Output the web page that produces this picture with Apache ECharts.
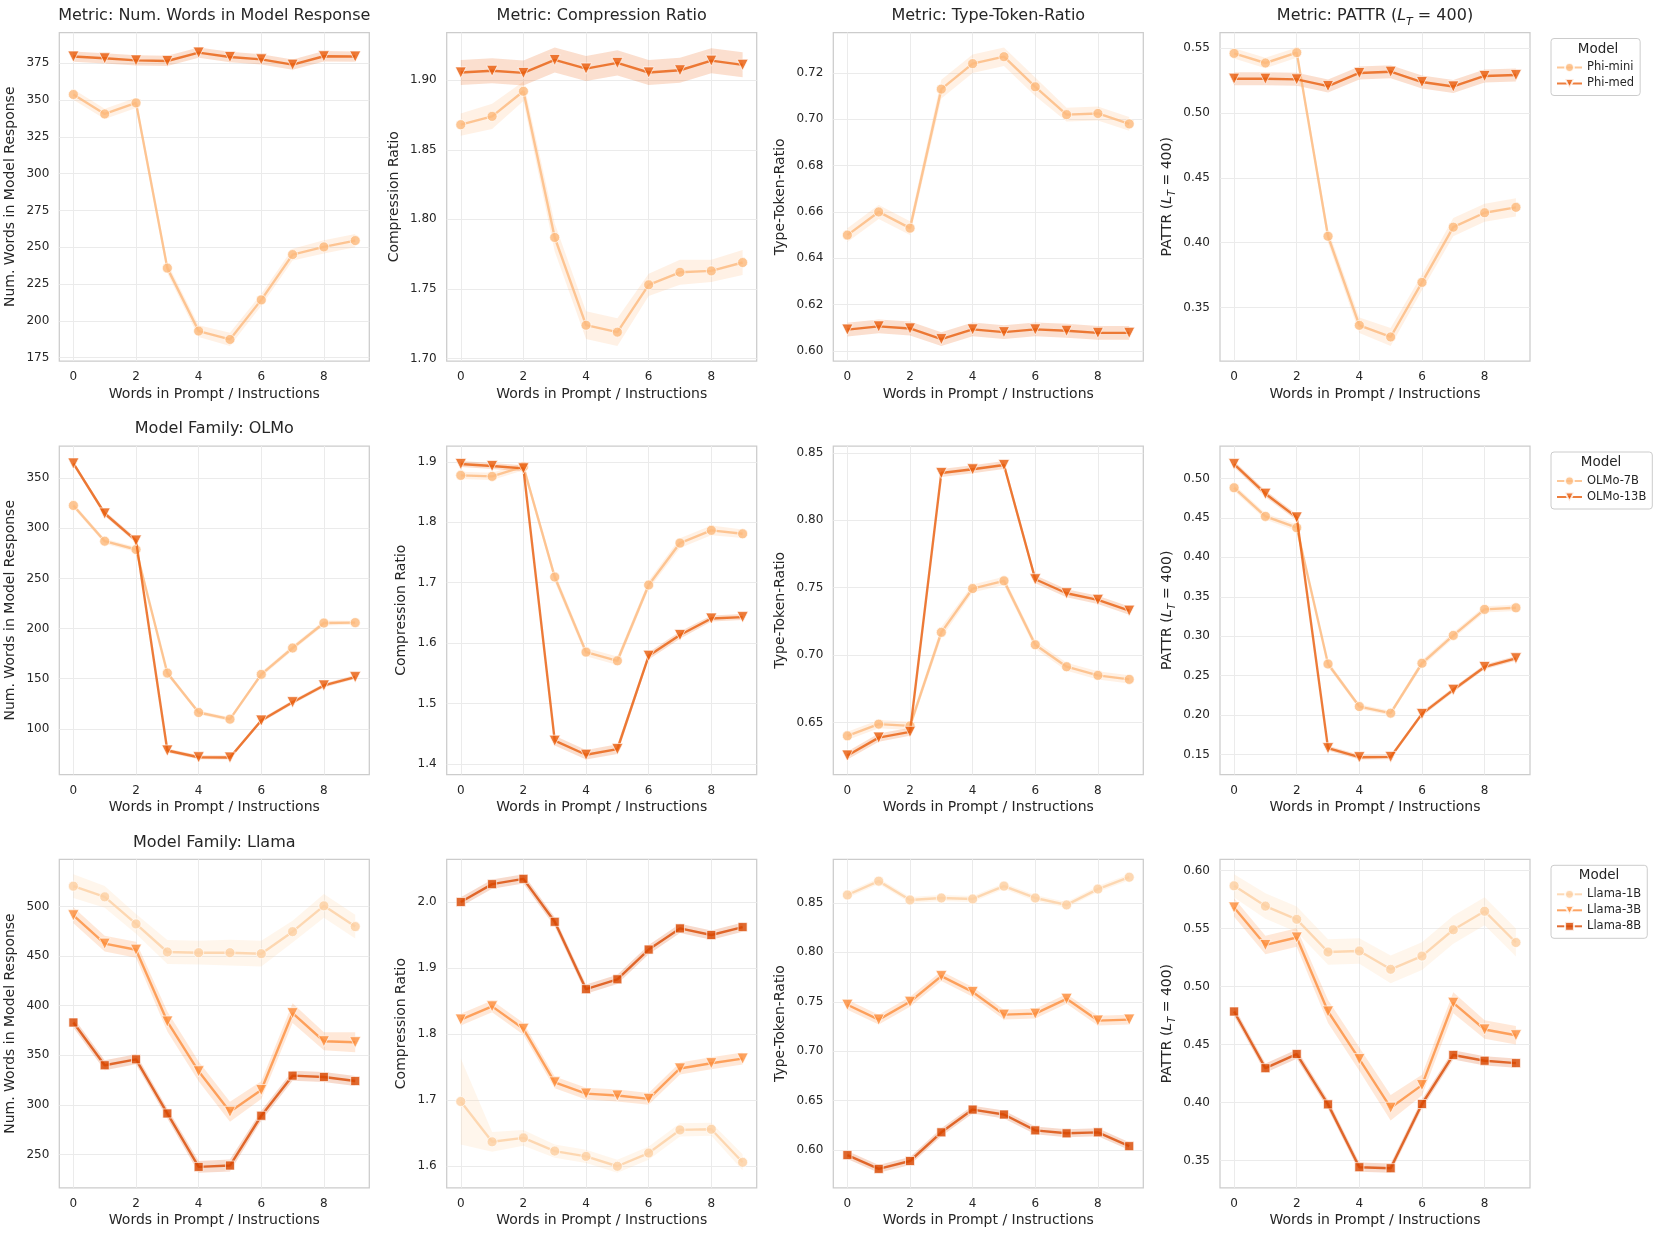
<!DOCTYPE html>
<html><head><meta charset="utf-8">
<script src="https://cdn.jsdelivr.net/npm/echarts@6/dist/echarts.min.js"></script>
<style>html,body{margin:0;padding:0;background:#fff}#c{width:1661px;height:1237px}</style>
</head><body><div id="c"></div>
<script>
// ---------------- DATA ----------------
const xValues = [0, 1, 2, 3, 4, 5, 6, 7, 8, 9];
const xTickLabels = ['0', '2', '4', '6', '8'];
const xAxisLabel = 'Words in Prompt / Instructions';
const metricTitles = ['Metric: Num. Words in Model Response', 'Metric: Compression Ratio', 'Metric: Type-Token-Ratio', 'Metric: PATTR ({i|L}{s|T} = 400)'];
const yAxisLabels = ['Num. Words in Model Response', 'Compression Ratio', 'Type-Token-Ratio', 'PATTR ({i|L}{s|T} = 400)'];
const rowTitles = ['Model Family: OLMo', 'Model Family: Llama'];
const legendTitle = 'Model';
const phiModels = ['Phi-mini', 'Phi-med'];
const olmoModels = ['OLMo-7B', 'OLMo-13B'];
const llamaModels = ['Llama-1B', 'Llama-3B', 'Llama-8B'];

// Row 1: Phi
const words_PhiMini = [353.8, 340.6, 348.1, 235.8, 193.0, 187.3, 214.2, 245.0, 250.2, 254.5];
const words_PhiMini_ci = [3.5, 3.5, 3.5, 3.5, 4, 4.5, 4, 4, 4.5, 4.5];
const words_PhiMed = [379.6, 378.4, 377.0, 376.6, 382.3, 379.3, 377.7, 374.1, 379.8, 379.6];
const words_PhiMed_ci = [3.5, 3.5, 3.5, 3.5, 3.5, 3.5, 3.5, 3.5, 3.5, 3.5];
const comp_PhiMini = [1.868, 1.874, 1.892, 1.787, 1.724, 1.719, 1.753, 1.762, 1.763, 1.769];
const comp_PhiMini_ci = [0.008, 0.009, 0.007, 0.010, 0.010, 0.010, 0.008, 0.009, 0.008, 0.009];
const comp_PhiMed = [1.9055, 1.9067, 1.9052, 1.9145, 1.9083, 1.9124, 1.9055, 1.9071, 1.914, 1.911];
const comp_PhiMed_ci = [0.009, 0.009, 0.009, 0.009, 0.009, 0.009, 0.009, 0.009, 0.009, 0.009];
const ttr_PhiMini = [0.650, 0.660, 0.653, 0.713, 0.724, 0.727, 0.714, 0.702, 0.7025, 0.698];
const ttr_PhiMini_ci = [0.003, 0.003, 0.003, 0.004, 0.004, 0.004, 0.004, 0.003, 0.003, 0.003];
const ttr_PhiMed = [0.6092, 0.6106, 0.6097, 0.6051, 0.6093, 0.6081, 0.6093, 0.6087, 0.6078, 0.6078];
const ttr_PhiMed_ci = [0.003, 0.003, 0.003, 0.003, 0.003, 0.003, 0.003, 0.003, 0.003, 0.003];
const pattr_PhiMini = [0.546, 0.5386, 0.5466, 0.405, 0.3363, 0.3273, 0.3694, 0.412, 0.4231, 0.4273];
const pattr_PhiMini_ci = [0.004, 0.004, 0.004, 0.005, 0.006, 0.007, 0.006, 0.007, 0.007, 0.007];
const pattr_PhiMed = [0.5265, 0.5265, 0.526, 0.5208, 0.5309, 0.5319, 0.5239, 0.5205, 0.5286, 0.5293];
const pattr_PhiMed_ci = [0.005, 0.005, 0.005, 0.005, 0.005, 0.005, 0.005, 0.005, 0.005, 0.005];

// Row 2: OLMo
const words_OLMo7B = [322.7, 287.1, 278.8, 155.6, 116.3, 109.7, 154.3, 180.6, 205.5, 205.9];
const words_OLMo7B_ci = [2.5, 2.5, 2.5, 2.5, 2, 2, 2.5, 2.5, 2.5, 2];
const words_OLMo13B = [364.6, 314.7, 287.7, 78.4, 71.7, 71.4, 108.3, 126.6, 143.3, 151.6];
const words_OLMo13B_ci = [2.5, 2.5, 2.5, 2, 2, 2, 2, 2, 2, 2];
const comp_OLMo7B = [1.8778, 1.8761, 1.8922, 1.7094, 1.585, 1.5706, 1.6961, 1.7656, 1.7867, 1.781];
const comp_OLMo7B_ci = [0.006, 0.006, 0.006, 0.008, 0.007, 0.007, 0.007, 0.008, 0.008, 0.007];
const comp_OLMo13B = [1.8967, 1.8933, 1.8894, 1.4383, 1.415, 1.4244, 1.5789, 1.6133, 1.6406, 1.643];
const comp_OLMo13B_ci = [0.005, 0.005, 0.005, 0.008, 0.008, 0.008, 0.006, 0.006, 0.005, 0.005];
const ttr_OLMo7B = [0.6401, 0.6488, 0.6475, 0.7169, 0.7494, 0.7551, 0.7077, 0.6914, 0.685, 0.682];
const ttr_OLMo7B_ci = [0.003, 0.003, 0.003, 0.004, 0.003, 0.003, 0.003, 0.003, 0.003, 0.003];
const ttr_OLMo13B = [0.6255, 0.6388, 0.6431, 0.8351, 0.8379, 0.8411, 0.7563, 0.7459, 0.741, 0.733];
const ttr_OLMo13B_ci = [0.003, 0.003, 0.003, 0.003, 0.003, 0.003, 0.003, 0.003, 0.003, 0.003];
const pattr_OLMo7B = [0.4882, 0.4519, 0.4375, 0.2648, 0.2108, 0.2024, 0.2657, 0.301, 0.334, 0.336];
const pattr_OLMo7B_ci = [0.004, 0.004, 0.004, 0.004, 0.003, 0.003, 0.004, 0.004, 0.004, 0.004];
const pattr_OLMo13B = [0.5182, 0.4806, 0.4506, 0.158, 0.1466, 0.147, 0.2015, 0.232, 0.261, 0.272];
const pattr_OLMo13B_ci = [0.004, 0.004, 0.004, 0.003, 0.003, 0.003, 0.003, 0.003, 0.003, 0.003];

// Row 3: Llama
const words_Llama1B = [520.6, 509.8, 482.5, 454.2, 453.5, 453.5, 452.5, 474.7, 500.7, 479.8];
const words_Llama1B_ci = [12, 11, 10, 12, 12, 13, 13, 11, 12, 12];
const words_Llama3B = [491.2, 462.6, 456.5, 384.1, 333.9, 293.1, 315.0, 392.5, 364.2, 363.2];
const words_Llama3B_ci = [8, 8, 8, 10, 10, 10, 9, 10, 9, 10];
const words_Llama8B = [383.1, 340.0, 346.0, 291.4, 237.5, 238.9, 289.1, 329.5, 328.2, 324.1];
const words_Llama8B_ci = [5, 5, 5, 5, 6, 6, 5, 5, 5, 5];
const comp_Llama1B = [1.698, 1.637, 1.643, 1.623, 1.615, 1.600, 1.620, 1.655, 1.656, 1.606];
const comp_Llama1B_ci = [0.065, 0.015, 0.012, 0.010, 0.010, 0.010, 0.010, 0.010, 0.010, 0.012];
const comp_Llama3B = [1.822, 1.842, 1.808, 1.727, 1.710, 1.707, 1.702, 1.748, 1.756, 1.763];
const comp_Llama3B_ci = [0.009, 0.009, 0.009, 0.009, 0.009, 0.009, 0.009, 0.009, 0.009, 0.009];
const comp_Llama8B = [2.000, 2.027, 2.035, 1.970, 1.868, 1.883, 1.928, 1.960, 1.950, 1.962];
const comp_Llama8B_ci = [0.007, 0.007, 0.007, 0.007, 0.007, 0.007, 0.007, 0.007, 0.007, 0.007];
const ttr_Llama1B = [0.858, 0.872, 0.853, 0.855, 0.854, 0.867, 0.855, 0.848, 0.864, 0.876];
const ttr_Llama1B_ci = [0.003, 0.003, 0.003, 0.003, 0.003, 0.003, 0.003, 0.003, 0.003, 0.003];
const ttr_Llama3B = [0.747, 0.732, 0.750, 0.776, 0.760, 0.737, 0.738, 0.753, 0.731, 0.732];
const ttr_Llama3B_ci = [0.005, 0.005, 0.005, 0.005, 0.005, 0.005, 0.005, 0.005, 0.005, 0.005];
const ttr_Llama8B = [0.595, 0.581, 0.589, 0.618, 0.641, 0.636, 0.620, 0.617, 0.618, 0.604];
const ttr_Llama8B_ci = [0.004, 0.004, 0.004, 0.004, 0.004, 0.004, 0.004, 0.004, 0.004, 0.004];
const pattr_Llama1B = [0.5869, 0.5694, 0.558, 0.5298, 0.5307, 0.5149, 0.5263, 0.549, 0.565, 0.538];
const pattr_Llama1B_ci = [0.010, 0.011, 0.011, 0.011, 0.011, 0.012, 0.012, 0.012, 0.012, 0.012];
const pattr_Llama3B = [0.5682, 0.5359, 0.5423, 0.4785, 0.4374, 0.3955, 0.415, 0.486, 0.463, 0.458];
const pattr_Llama3B_ci = [0.008, 0.008, 0.008, 0.010, 0.010, 0.011, 0.009, 0.009, 0.008, 0.008];
const pattr_Llama8B = [0.4785, 0.4296, 0.4418, 0.3984, 0.3442, 0.3433, 0.3987, 0.441, 0.436, 0.434];
const pattr_Llama8B_ci = [0.004, 0.004, 0.004, 0.004, 0.004, 0.004, 0.004, 0.004, 0.004, 0.004];

// Y tick labels
const ticks_words_phi = ['175', '200', '225', '250', '275', '300', '325', '350', '375'];
const ticks_comp_phi = ['1.70', '1.75', '1.80', '1.85', '1.90'];
const ticks_ttr_phi = ['0.60', '0.62', '0.64', '0.66', '0.68', '0.70', '0.72'];
const ticks_pattr_phi = ['0.35', '0.40', '0.45', '0.50', '0.55'];
const ticks_words_olmo = ['100', '150', '200', '250', '300', '350'];
const ticks_comp_olmo = ['1.4', '1.5', '1.6', '1.7', '1.8', '1.9'];
const ticks_ttr_olmo = ['0.65', '0.70', '0.75', '0.80', '0.85'];
const ticks_pattr_olmo = ['0.15', '0.20', '0.25', '0.30', '0.35', '0.40', '0.45', '0.50'];
const ticks_words_llama = ['250', '300', '350', '400', '450', '500'];
const ticks_comp_llama = ['1.6', '1.7', '1.8', '1.9', '2.0'];
const ticks_ttr_llama = ['0.60', '0.65', '0.70', '0.75', '0.80', '0.85'];
const ticks_pattr_llama = ['0.35', '0.40', '0.45', '0.50', '0.55', '0.60'];

// ---------------- STRUCTURE ----------------
const rows = [
  { models: phiModels, title: null, panels: [
    { means: [words_PhiMini, words_PhiMed], cis: [words_PhiMini_ci, words_PhiMed_ci], ticks: ticks_words_phi },
    { means: [comp_PhiMini, comp_PhiMed], cis: [comp_PhiMini_ci, comp_PhiMed_ci], ticks: ticks_comp_phi },
    { means: [ttr_PhiMini, ttr_PhiMed], cis: [ttr_PhiMini_ci, ttr_PhiMed_ci], ticks: ticks_ttr_phi },
    { means: [pattr_PhiMini, pattr_PhiMed], cis: [pattr_PhiMini_ci, pattr_PhiMed_ci], ticks: ticks_pattr_phi }
  ]},
  { models: olmoModels, title: rowTitles[0], panels: [
    { means: [words_OLMo7B, words_OLMo13B], cis: [words_OLMo7B_ci, words_OLMo13B_ci], ticks: ticks_words_olmo },
    { means: [comp_OLMo7B, comp_OLMo13B], cis: [comp_OLMo7B_ci, comp_OLMo13B_ci], ticks: ticks_comp_olmo },
    { means: [ttr_OLMo7B, ttr_OLMo13B], cis: [ttr_OLMo7B_ci, ttr_OLMo13B_ci], ticks: ticks_ttr_olmo },
    { means: [pattr_OLMo7B, pattr_OLMo13B], cis: [pattr_OLMo7B_ci, pattr_OLMo13B_ci], ticks: ticks_pattr_olmo }
  ]},
  { models: llamaModels, title: rowTitles[1], panels: [
    { means: [words_Llama1B, words_Llama3B, words_Llama8B], cis: [words_Llama1B_ci, words_Llama3B_ci, words_Llama8B_ci], ticks: ticks_words_llama },
    { means: [comp_Llama1B, comp_Llama3B, comp_Llama8B], cis: [comp_Llama1B_ci, comp_Llama3B_ci, comp_Llama8B_ci], ticks: ticks_comp_llama },
    { means: [ttr_Llama1B, ttr_Llama3B, ttr_Llama8B], cis: [ttr_Llama1B_ci, ttr_Llama3B_ci, ttr_Llama8B_ci], ticks: ticks_ttr_llama },
    { means: [pattr_Llama1B, pattr_Llama3B, pattr_Llama8B], cis: [pattr_Llama1B_ci, pattr_Llama3B_ci, pattr_Llama8B_ci], ticks: ticks_pattr_llama }
  ]}
];

// ---------------- STYLE / LAYOUT ----------------
const FONT = 'DejaVu Sans';
const TXT = '#262626';
const palettes = { 2: ['#fdb97d', '#e95e0d'], 3: ['#fdd0a2', '#fd8d3c', '#d94801'] };
const symbols = ['circle', 'triangle', 'rect'];
const symbolRot = [0, 180, 0];
const symbolSizes = [10, 11, 9];
const gridLefts = [59.3, 446.7, 833.3, 1220];
const gridTops = [32.5, 446, 859.3];
const GW = 310, GH = 328.5;
const legendCenters = [1598, 1601, 1599];
const richSub = (fs, lh) => ({
  i: { fontStyle: 'italic', fontSize: fs, fontFamily: FONT, color: TXT, lineHeight: lh },
  s: { fontStyle: 'italic', fontSize: Math.round(fs * 0.7), fontFamily: FONT, color: TXT, verticalAlign: 'bottom', lineHeight: lh }
});
function rgba(hex, a) {
  const r = parseInt(hex.slice(1, 3), 16), g = parseInt(hex.slice(3, 5), 16), b = parseInt(hex.slice(5, 7), 16);
  return `rgba(${r},${g},${b},${a})`;
}
function labelWidth(s) {
  let w = 0; for (const ch of s) w += (ch === '.' ? 0.318 : 0.636) * 12; return w;
}

const grids = [], xAxes = [], yAxes = [], series = [], legends = [], graphics = [];
const xTickVals = xTickLabels.map(Number);

rows.forEach((row, r) => {
  const cols = palettes[row.models.length];
  row.panels.forEach((p, c) => {
    const k = r * 4 + c;
    const los = p.means.map((m, j) => m.map((v, i) => v - p.cis[j][i]));
    const his = p.means.map((m, j) => m.map((v, i) => v + p.cis[j][i]));
    const lo = Math.min(...los.flat()), hi = Math.max(...his.flat());
    const pad = (hi - lo) * 0.05;
    const tickVals = p.ticks.map(Number);
    const maxLabW = Math.max(...p.ticks.map(labelWidth));
    grids.push({ left: gridLefts[c], top: gridTops[r], width: GW, height: GH, show: true,
      borderColor: '#cccccc', borderWidth: 1.25, backgroundColor: 'rgba(0,0,0,0)', outerBoundsMode: 'none' });
    xAxes.push({ gridIndex: k, type: 'value', min: -0.45, max: 9.45,
      name: xAxisLabel, nameLocation: 'middle', nameGap: 26, nameMoveOverlap: false,
      nameTextStyle: { fontSize: 14, color: TXT, fontFamily: FONT },
      axisLine: { show: false },
      axisTick: { show: false, customValues: xTickVals },
      axisLabel: { customValues: xTickVals, margin: 10, fontSize: 12, color: TXT, fontFamily: FONT,
        formatter: v => xTickLabels[xTickVals.indexOf(v)] ?? String(v) },
      splitLine: { show: true, lineStyle: { color: '#ebebeb', width: 1 } } });
    yAxes.push({ gridIndex: k, type: 'value', min: lo - pad, max: hi + pad,
      name: yAxisLabels[c], nameLocation: 'middle', nameGap: maxLabW + 16, nameMoveOverlap: false,
      nameTextStyle: { fontSize: 14, color: TXT, fontFamily: FONT, lineHeight: 20, rich: richSub(14, 20) },
      axisLine: { show: false },
      axisTick: { show: false, customValues: tickVals },
      axisLabel: { customValues: tickVals, margin: 10, fontSize: 12, color: TXT, fontFamily: FONT,
        formatter: v => { let b = 0; tickVals.forEach((t, i) => { if (Math.abs(t - v) < Math.abs(tickVals[b] - v)) b = i; }); return p.ticks[b]; } },
      splitLine: { show: true, lineStyle: { color: '#ebebeb', width: 1 } } });
    row.models.forEach((name, j) => {
      const color = cols[j];
      const loArr = los[j], hiArr = his[j];
      series.push({ type: 'custom', name: 'ci ' + name, xAxisIndex: k, yAxisIndex: k, silent: true, z: 1,
        data: xValues.map((x, i) => [x, loArr[i], hiArr[i]]), encode: { x: 0, y: [1, 2] },
        renderItem: (params, api) => {
          if (params.dataIndex !== 0) return null;
          const pts = [];
          for (let i = 0; i < xValues.length; i++) pts.push(api.coord([xValues[i], hiArr[i]]));
          for (let i = xValues.length - 1; i >= 0; i--) pts.push(api.coord([xValues[i], loArr[i]]));
          return { type: 'polygon', shape: { points: pts }, style: { fill: rgba(color, 0.2) } };
        } });
      series.push({ type: 'line', name, xAxisIndex: k, yAxisIndex: k, z: 3 + j,
        data: xValues.map((x, i) => [x, p.means[j][i]]),
        symbol: symbols[j], symbolRotate: symbolRot[j], symbolSize: symbolSizes[j], showSymbol: true,
        lineStyle: { color, width: 2.4, opacity: 0.8 },
        itemStyle: { color, borderColor: '#ffffff', borderWidth: 0.8, opacity: 0.82 } });
    });
    // titles
    let t = null;
    if (r === 0) t = metricTitles[c]; else if (c === 0) t = row.title;
    if (t) graphics.push({ type: 'text', x: gridLefts[c] + GW / 2, y: gridTops[r] - 16.8,
      style: { text: t, fontSize: 16, fontFamily: FONT, fill: TXT, align: 'center', verticalAlign: 'middle',
        lineHeight: 24, rich: richSub(16, 24) } });
  });
  legends.push({ data: row.models, orient: 'vertical', left: 1551, top: gridTops[r] + 6,
    padding: [23, 6, 6, 5], itemWidth: 25, itemHeight: 11, itemGap: 4,
    borderColor: '#cccccc', borderWidth: 1, borderRadius: 3, backgroundColor: 'rgba(255,255,255,0.8)',
    selectedMode: false, textStyle: { fontSize: 11.5, color: TXT, fontFamily: FONT } });
  graphics.push({ type: 'text', x: legendCenters[r], y: gridTops[r] + 16.5, z: 100,
    style: { text: legendTitle, fontSize: 13.5, fontFamily: FONT, fill: TXT, align: 'center', verticalAlign: 'middle' } });
});

const chart = echarts.init(document.getElementById('c'), null, { renderer: 'canvas' });
chart.setOption({
  animation: false,
  backgroundColor: '#ffffff',
  textStyle: { fontFamily: FONT },
  grid: grids, xAxis: xAxes, yAxis: yAxes, series, legend: legends, graphic: graphics
});
</script></body></html>
